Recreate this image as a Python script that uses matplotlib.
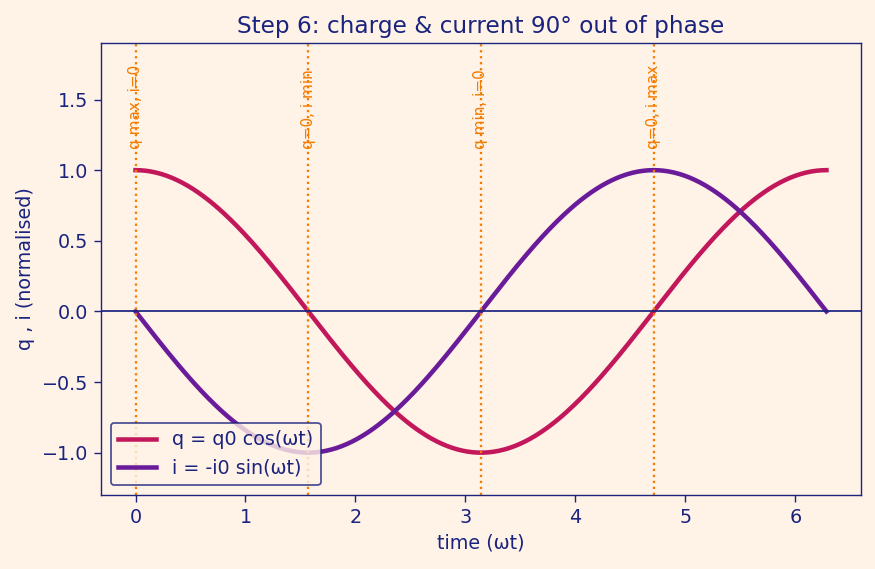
import matplotlib.pyplot as plt
import numpy as np

# model parameters (normalised)
q0 = 1.0
i0 = 1.0
t_end = 2 * np.pi
marks_t = [0, np.pi / 2, np.pi, 3 * np.pi / 2]
marks_lbl = ["q max, i=0", "q=0, i min", "q min, i=0", "q=0, i max"]

bg = "#fff2e6"
navy = "#1a237e"
orange = "#f57c00"

plt.rcParams["font.size"] = 11

t = np.linspace(0, t_end, 400)
q = q0 * np.cos(t)
i = -i0 * np.sin(t)

fig, ax = plt.subplots(figsize=(7, 4.552), dpi=125)
fig.patch.set_facecolor(bg)
ax.set_facecolor(bg)

ax.plot(t, q, color="#c2185b", lw=2.6, label="q = q0 cos(ωt)")
ax.plot(t, i, color="#6a1b9a", lw=2.6, label="i = -i0 sin(ωt)")
ax.axhline(0, color=navy, lw=1)

for xm, lb in zip(marks_t, marks_lbl):
    ax.axvline(xm, color=orange, ls=":", lw=1.3)
    ax.text(xm, 1.15, lb, rotation=90, ha="center", va="bottom",
            color=orange, fontsize=8.8)

ax.set_ylim(-1.3, 1.9)
ax.set_title("Step 6: charge & current 90° out of phase", color=navy, fontsize=13.3)
ax.set_xlabel("time (ωt)", color=navy)
ax.set_ylabel("q , i (normalised)", color=navy)
ax.tick_params(colors=navy, length=4)
for s in ax.spines.values():
    s.set_color(navy)

leg = ax.legend(loc="lower left", facecolor=bg, edgecolor=navy, framealpha=0.8)
for txt in leg.get_texts():
    txt.set_color(navy)

fig.subplots_adjust(left=0.1154, right=0.984, top=0.9244, bottom=0.130)
fig.savefig("out.png", facecolor=bg)
